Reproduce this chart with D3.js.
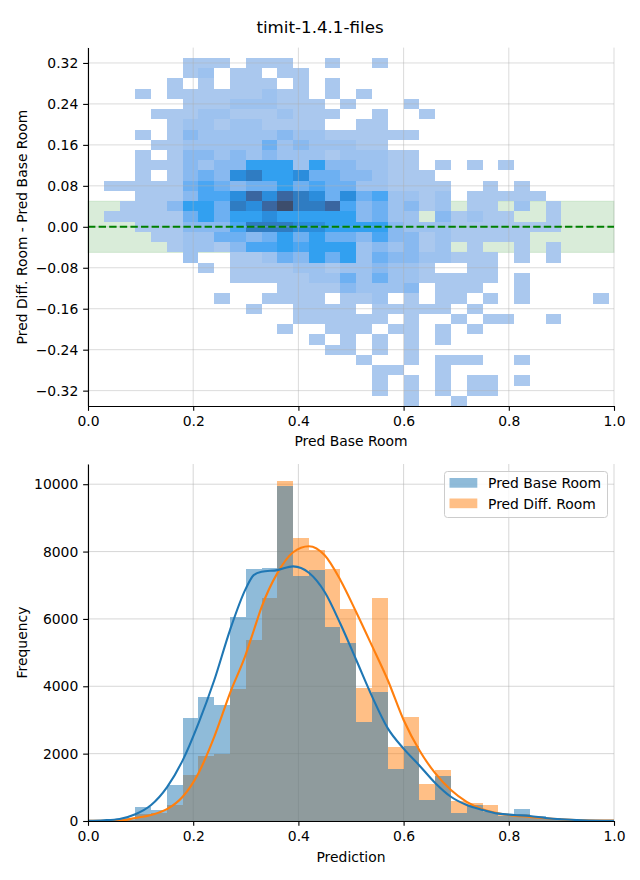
<!DOCTYPE html>
<html><head><meta charset="utf-8">
<script src="https://cdn.jsdelivr.net/npm/d3@7"></script>
<style>body{margin:0;background:#fff} svg{display:block} text{font-family:"DejaVu Sans",sans-serif;fill:#000}</style>
</head><body><svg id="c" width="640" height="880"></svg>
<script>
// ---------------- DATA ----------------
const titleText = "timit-1.4.1-files";
// 2D histogram: x bin left edges (Pred Base Room) and y bin centres (difference)
const heatXStarts = [0,0.03,0.06,0.09,0.12,0.15,0.18,0.21,0.24,0.27,0.30,0.33,0.36,0.39,0.42,0.45,0.48,0.51,0.54,0.57,0.60,0.63,0.66,0.69,0.72,0.75,0.78,0.81,0.84,0.87,0.90,0.93,0.96];
const heatXWidth = 0.03;
const heatYCenters = [0.32,0.30,0.28,0.26,0.24,0.22,0.20,0.18,0.16,0.14,0.12,0.10,0.08,0.06,0.04,0.02,0.00,-0.02,-0.04,-0.06,-0.08,-0.10,-0.12,-0.14,-0.16,-0.18,-0.20,-0.22,-0.24,-0.26,-0.28,-0.30,-0.32,-0.34];
const heatYHeight = 0.02;
// density level per cell (0 = empty)
const heatLevels = [
 [0,0,0,0,0,0,1,1,1,0,1,1,1,0,0,1,0,0,1,0,0,0,0,0,0,0,0,0,0,0,0,0,0],
 [0,0,0,0,0,0,1,2,0,1,1,0,1,1,0,0,0,0,0,0,0,0,0,0,0,0,0,0,0,0,0,0,0],
 [0,0,0,0,0,1,0,1,0,1,1,1,0,1,0,1,0,0,0,0,0,0,0,0,0,0,0,0,0,0,0,0,0],
 [0,0,0,1,0,1,1,1,1,1,1,2,1,1,0,1,0,1,0,0,0,0,0,0,0,0,0,0,0,0,0,0,0],
 [0,0,0,0,0,0,1,1,1,2,2,2,1,1,1,0,1,0,0,0,1,0,0,0,0,0,0,0,0,0,0,0,0],
 [0,0,0,0,1,1,1,2,2,1,1,1,2,1,1,1,0,0,1,0,0,1,0,0,0,0,0,0,0,0,0,0,0],
 [0,0,0,0,0,1,2,2,1,2,2,1,1,1,1,0,0,1,1,0,0,0,0,0,0,0,0,0,0,0,0,0,0],
 [0,0,0,1,0,1,3,2,2,2,2,2,3,2,2,1,1,1,1,1,1,0,0,0,0,0,0,0,0,0,0,0,0],
 [0,0,0,0,1,1,2,2,2,2,2,4,2,3,2,2,2,1,1,0,0,0,0,0,0,0,0,0,0,0,0,0,0],
 [0,0,0,1,0,1,3,3,2,3,2,3,2,2,2,1,2,2,2,1,1,0,0,0,0,0,0,0,0,0,0,0,0],
 [0,0,0,1,1,1,3,2,3,3,6,6,6,2,6,3,3,2,2,1,1,0,1,0,1,0,1,0,0,0,0,0,0],
 [0,0,0,1,0,1,3,4,3,7,8,6,6,7,4,4,3,3,2,1,1,1,0,0,0,0,0,0,0,0,0,0,0],
 [0,1,1,1,1,1,4,5,4,3,4,4,6,4,5,4,4,2,2,1,1,1,1,0,0,1,0,1,0,0,0,0,0],
 [0,0,0,1,1,1,3,5,5,7,9,7,9,8,7,4,7,4,5,2,2,1,2,0,1,1,1,1,1,0,0,0,0],
 [0,0,1,1,1,3,6,6,4,8,7,9,10,8,8,9,5,3,4,2,3,1,2,0,1,1,0,2,0,1,0,0,0],
 [0,1,1,1,1,1,4,6,4,6,6,7,6,6,6,6,6,3,4,2,2,0,3,1,2,1,1,0,0,1,0,0,0],
 [0,0,0,1,1,1,3,3,3,5,8,8,8,7,7,6,6,6,6,3,2,2,2,1,1,1,1,1,1,1,0,0,0],
 [0,0,0,0,1,1,2,2,4,4,3,4,6,4,6,4,4,3,5,3,3,1,2,1,1,1,1,1,0,0,0,0,0],
 [0,0,0,0,0,1,2,2,1,3,5,5,6,5,6,6,6,2,3,2,3,1,2,0,1,0,0,1,0,1,0,0,0],
 [0,0,0,0,0,0,2,0,0,1,1,2,4,3,6,4,6,2,4,3,3,2,2,1,1,1,0,1,0,1,0,0,0],
 [0,0,0,0,0,0,0,1,0,1,1,1,1,2,2,1,2,2,3,2,2,1,0,0,1,1,0,0,0,0,0,0,0],
 [0,0,0,0,0,0,0,0,0,1,1,1,1,1,2,2,4,2,4,2,2,1,1,1,1,1,0,1,0,0,0,0,0],
 [0,0,0,0,0,0,0,0,0,0,0,0,1,1,1,1,3,2,2,2,3,0,1,1,1,0,0,1,0,0,0,0,0],
 [0,0,0,0,0,0,0,0,1,0,0,1,1,1,1,0,1,1,2,0,1,0,1,1,0,1,0,1,0,0,0,0,1],
 [0,0,0,0,0,0,0,0,0,0,1,0,0,1,1,1,1,0,1,1,1,1,1,0,1,0,0,0,0,0,0,0,0],
 [0,0,0,0,0,0,0,0,0,0,0,0,0,1,1,1,1,1,1,0,1,0,0,1,0,1,1,0,0,1,0,0,0],
 [0,0,0,0,0,0,0,0,0,0,0,0,1,0,0,1,1,1,0,1,1,0,1,0,1,0,0,0,0,0,0,0,0],
 [0,0,0,0,0,0,0,0,0,0,0,0,0,0,1,0,1,0,1,0,1,0,1,0,0,0,0,0,0,0,0,0,0],
 [0,0,0,0,0,0,0,0,0,0,0,0,0,0,0,1,1,0,1,0,1,0,0,0,0,0,0,0,0,0,0,0,0],
 [0,0,0,0,0,0,0,0,0,0,0,0,0,0,0,0,0,1,0,0,1,0,1,1,1,0,0,1,0,0,0,0,0],
 [0,0,0,0,0,0,0,0,0,0,0,0,0,0,0,0,0,0,1,1,0,0,1,0,0,0,0,0,0,0,0,0,0],
 [0,0,0,0,0,0,0,0,0,0,0,0,0,0,0,0,0,0,1,0,1,0,1,0,1,1,0,1,0,0,0,0,0],
 [0,0,0,0,0,0,0,0,0,0,0,0,0,0,0,0,0,0,1,0,1,0,1,0,1,1,0,0,0,0,0,0,0],
 [0,0,0,0,0,0,0,0,0,0,0,0,0,0,0,0,0,0,0,0,1,0,0,1,0,0,0,0,0,0,0,0,0]
];
const heatLevelColors = ["#ffffff","#aac8ee","#9dc2ef","#88b9f0","#6db0f2","#4aa6f3","#32a0f0","#2b8ddc","#2f7cc2","#3a66a0","#3d4d6c"];
const bandLimits = [-0.05, 0.05];
const topXTicks = [0, 0.2, 0.4, 0.6, 0.8, 1.0];
const topYTicks = [0.32, 0.24, 0.16, 0.08, 0, -0.08, -0.16, -0.24, -0.32];

// 1D histograms
const histBinStarts = [0,0.03,0.06,0.09,0.12,0.15,0.18,0.21,0.24,0.27,0.30,0.33,0.36,0.39,0.42,0.45,0.48,0.51,0.54,0.57,0.60,0.63,0.66,0.69,0.72,0.75,0.78,0.81,0.84,0.87,0.90,0.93,0.96];
const histBinWidth = 0.03;
const seriesNames = ["Pred Base Room", "Pred Diff. Room"];
const baseCounts = [10,30,80,415,340,1070,3060,3680,3440,6050,7480,7510,9940,7270,7450,5760,5280,2940,3830,1540,2230,620,1330,230,470,280,160,360,150,100,50,20,10];
const diffCounts = [5,20,40,200,250,475,1370,1930,1990,3920,5370,6620,10090,8400,8040,7480,6290,3950,6620,2200,3090,1100,1510,590,530,470,200,210,120,80,40,20,10];
const kdeX = [0,0.03,0.06,0.09,0.12,0.15,0.18,0.21,0.24,0.27,0.30,0.315,0.33,0.36,0.39,0.42,0.45,0.48,0.51,0.54,0.57,0.60,0.63,0.66,0.69,0.72,0.75,0.78,0.81,0.84,0.87,0.90,0.94,1.0];
const kdeBase = [5,20,60,200,475,1000,1800,2900,4180,5670,6900,7300,7400,7450,7560,7370,6800,5850,4780,3700,2750,2150,1650,1130,720,475,330,220,180,150,90,50,20,5];
const kdeDiff = [3,8,15,90,180,350,720,1420,2500,3800,4950,5650,6350,7360,7980,8160,7890,7150,6200,5200,4180,3000,2100,1420,920,570,350,230,160,120,80,50,20,10];
const botXTicks = [0, 0.2, 0.4, 0.6, 0.8, 1.0];
const botYTicks = [0, 2000, 4000, 6000, 8000, 10000];

// ---------------- DRAW ----------------
const svg = d3.select("#c");
const FS = 13.9;
const tickLen = 4.86, tickPad = 4.86;
const gridCol = "#b0b0b0";
const blue = "#1f77b4", orange = "#ff7f0e";

svg.append("text").attr("x", 320).attr("y", 33).attr("text-anchor", "middle")
  .style("font-size", "16.7px").text(titleText);

// ---- top panel ----
const xT = d3.scaleLinear().domain([0, 1]).range([88, 614]);
const yT = d3.scaleLinear().domain([-0.35, 0.35]).range([406, 47.6]);
const gTop = svg.append("g");

gTop.append("rect").attr("x", xT(0)).attr("width", xT(1) - xT(0))
  .attr("y", yT(bandLimits[1])).attr("height", yT(bandLimits[0]) - yT(bandLimits[1]))
  .attr("fill", "#008000").attr("fill-opacity", 0.15)
  .attr("stroke", "#008000").attr("stroke-opacity", 0.12).attr("stroke-width", 1);

const cells = [];
heatLevels.forEach((row, j) => row.forEach((lv, i) => { if (lv > 0) cells.push({x: heatXStarts[i], y: heatYCenters[j], lv}); }));
gTop.append("g").selectAll("rect").data(cells).join("rect")
  .attr("x", d => xT(d.x)).attr("width", d => xT(d.x + heatXWidth) - xT(d.x))
  .attr("y", d => yT(d.y + heatYHeight / 2)).attr("height", d => yT(d.y - heatYHeight / 2) - yT(d.y + heatYHeight / 2))
  .attr("fill", d => heatLevelColors[d.lv])
  .attr("shape-rendering", "crispEdges");

const gGridT = gTop.append("g").attr("stroke", gridCol).attr("stroke-opacity", 0.45).attr("stroke-width", 1);
gGridT.selectAll(".gx").data(topXTicks).join("line")
  .attr("x1", d => xT(d)).attr("x2", d => xT(d)).attr("y1", yT.range()[1]).attr("y2", yT.range()[0]);
gGridT.selectAll(".gy").data(topYTicks).join("line").attr("class", "gy")
  .attr("x1", xT(0)).attr("x2", xT(1)).attr("y1", d => yT(d)).attr("y2", d => yT(d));

gTop.append("line").attr("x1", xT(0)).attr("x2", xT(1)).attr("y1", yT(0)).attr("y2", yT(0))
  .attr("stroke", "#008000").attr("stroke-width", 2).attr("stroke-dasharray", "7.4,3.2");

function styleAxis(g) {
  g.selectAll("text").style("font-size", FS + "px").style("font-family", '"DejaVu Sans",sans-serif').attr("fill", "#000");
  g.selectAll("line").attr("stroke", "#000").attr("stroke-width", 1.1);
  g.select(".domain").attr("stroke", "#000").attr("stroke-width", 1.1);
}
const fmtTopX = d3.format(".1f"), fmtTopY = d3.format(".2f");
gTop.append("g").attr("transform", `translate(0,${yT.range()[0]})`)
  .call(d3.axisBottom(xT).tickValues(topXTicks).tickFormat(fmtTopX).tickSize(tickLen).tickPadding(tickPad).tickSizeOuter(0))
  .call(styleAxis);
gTop.append("g").attr("transform", `translate(${xT(0)},0)`)
  .call(d3.axisLeft(yT).tickValues(topYTicks).tickFormat(fmtTopY).tickSize(tickLen).tickPadding(tickPad).tickSizeOuter(0))
  .call(styleAxis);
svg.append("text").attr("x", 351).attr("y", 446).attr("text-anchor", "middle").style("font-size", FS + "px").text("Pred Base Room");
svg.append("text").attr("transform", `translate(27,227) rotate(-90)`).attr("text-anchor", "middle").style("font-size", FS + "px").text("Pred Diff. Room - Pred Base Room");

// ---- bottom panel ----
const xB = d3.scaleLinear().domain([0, 1]).range([88, 614]);
const yB = d3.scaleLinear().domain([0, 10600]).range([821, 464]);
const gBot = svg.append("g");
const gGridB = gBot.append("g").attr("stroke", gridCol).attr("stroke-opacity", 0.5).attr("stroke-width", 1);
gGridB.selectAll(".gx").data(botXTicks).join("line").attr("class", "gx")
  .attr("x1", d => xB(d)).attr("x2", d => xB(d)).attr("y1", yB.range()[1]).attr("y2", yB.range()[0]);
gGridB.selectAll(".gy").data(botYTicks).join("line").attr("class", "gy")
  .attr("x1", xB(0)).attr("x2", xB(1)).attr("y1", d => yB(d)).attr("y2", d => yB(d));

function bars(counts, color) {
  gBot.append("g").selectAll("rect").data(counts.map((c, i) => ({x: histBinStarts[i], c}))).join("rect")
    .attr("x", d => xB(d.x)).attr("width", d => xB(d.x + histBinWidth) - xB(d.x))
    .attr("y", d => yB(d.c)).attr("height", d => yB(0) - yB(d.c))
    .attr("fill", color).attr("fill-opacity", 0.5).attr("shape-rendering", "crispEdges");
}
bars(diffCounts, orange);
bars(baseCounts, blue);

const line = d3.line().x(d => xB(d[0])).y(d => yB(d[1])).curve(d3.curveMonotoneX);
gBot.append("path").datum(kdeX.map((x, i) => [x, kdeDiff[i]])).attr("d", line)
  .attr("fill", "none").attr("stroke", orange).attr("stroke-width", 2.1);
gBot.append("path").datum(kdeX.map((x, i) => [x, kdeBase[i]])).attr("d", line)
  .attr("fill", "none").attr("stroke", blue).attr("stroke-width", 2.1);

gBot.append("g").attr("transform", `translate(0,${yB(0)})`)
  .call(d3.axisBottom(xB).tickValues(botXTicks).tickFormat(fmtTopX).tickSize(tickLen).tickPadding(tickPad).tickSizeOuter(0))
  .call(styleAxis);
gBot.append("g").attr("transform", `translate(${xB(0)},0)`)
  .call(d3.axisLeft(yB).tickValues(botYTicks).tickFormat(d3.format("d")).tickSize(tickLen).tickPadding(tickPad).tickSizeOuter(0))
  .call(styleAxis);
svg.append("text").attr("x", 351).attr("y", 862).attr("text-anchor", "middle").style("font-size", FS + "px").text("Prediction");
svg.append("text").attr("transform", `translate(27,642.5) rotate(-90)`).attr("text-anchor", "middle").style("font-size", FS + "px").text("Frequency");

const lg = svg.append("g");
lg.append("rect").attr("x", 444.5).attr("y", 471.5).attr("width", 163).attr("height", 46).attr("rx", 3)
  .attr("fill", "#fff").attr("fill-opacity", 0.8).attr("stroke", "#cccccc").attr("stroke-width", 1);
[blue, orange].forEach((c, i) => {
  lg.append("rect").attr("x", 449.5).attr("y", 478 + i * 20.5).attr("width", 27.8).attr("height", 9.7)
    .attr("fill", c).attr("fill-opacity", 0.5);
  lg.append("text").attr("x", 488).attr("y", 488 + i * 20.5).style("font-size", FS + "px").text(seriesNames[i]);
});
</script></body></html>
